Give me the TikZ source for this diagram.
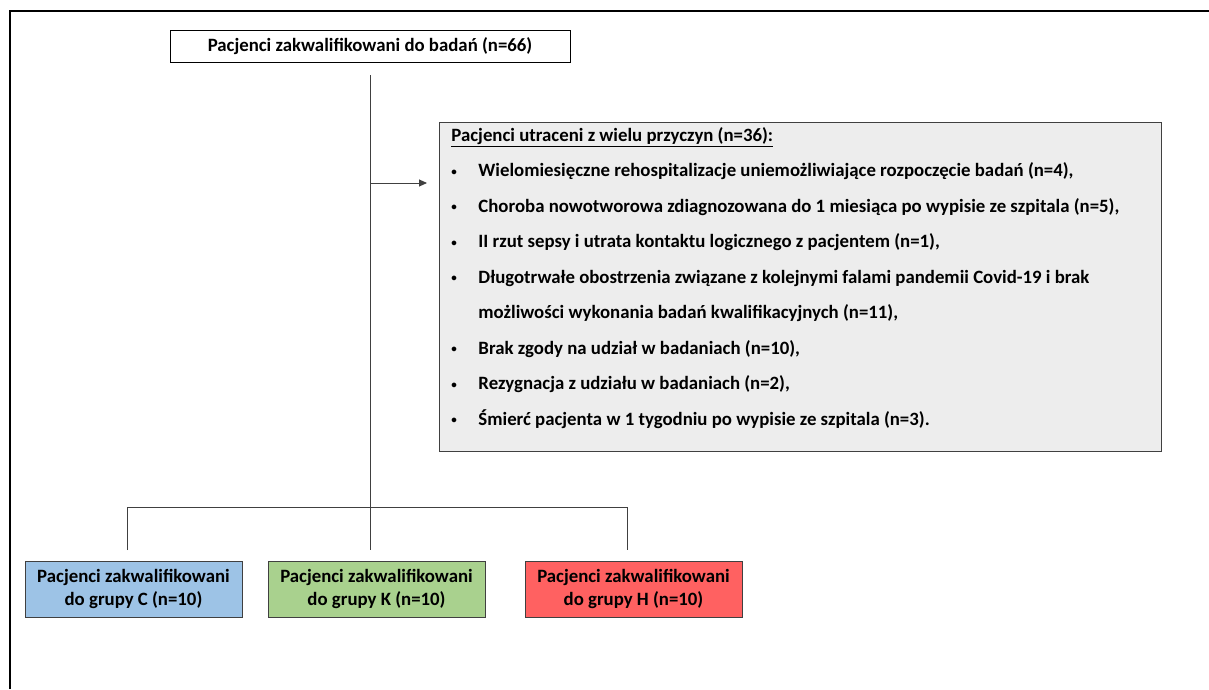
\documentclass[tikz,border=0pt]{standalone}
\usepackage{fontspec}
\setmainfont{Carlito}
\usetikzlibrary{arrows.meta}
\definecolor{cblue}{HTML}{9DC3E6}
\definecolor{cgreen}{HTML}{A9D18E}
\definecolor{cred}{HTML}{FF6161}
\definecolor{cgray}{HTML}{EDEDED}
\definecolor{cline}{HTML}{404040}
\newcommand{\bul}{\makebox[27pt][l]{\raisebox{1.5pt}{\fontsize{11}{11}\selectfont\textbullet}}}
\tikzset{
  basefont/.style={font=\fontsize{18.8}{23.5}\selectfont\bfseries},
  topbox/.style={draw=black, line width=0.9pt, fill=white, minimum width=400pt, minimum height=32pt, inner sep=0pt, basefont},
  grpbox/.style={draw=cline, line width=0.9pt, minimum width=217pt, minimum height=56pt, inner sep=0pt, align=center, basefont},
  lostbox/.style={draw=cline, line width=0.9pt, fill=cgray, inner sep=0pt, anchor=north west},
  conn/.style={draw=cline, line width=0.9pt},
  arr/.style={conn, -{Triangle[length=8pt,width=7pt]}}
}
\begin{document}
\begin{tikzpicture}[x=1pt,y=-1pt]
\useasboundingbox (0,0) rectangle (1209,689);
\fill[white] (0,0) rectangle (1209,689);
\draw[line width=2pt] (10,689) -- (10,11) -- (1209,11);

\node[topbox] (top) at (370,46) {Pacjenci zakwalifikowani do badań (n=66)};

\node[lostbox] (lost) at (439,122) {%
\begin{minipage}[c][329pt][t]{722pt}
\fontsize{18.8}{35.5}\selectfont\bfseries
\parindent=0pt
\vspace*{5pt}%
\hspace*{12pt}\underline{Pacjenci utraceni z wielu przyczyn (n=36):}\\
\hspace*{12pt}\bul Wielomiesięczne rehospitalizacje uniemożliwiające rozpoczęcie badań (n=4),\\
\hspace*{12pt}\bul Choroba nowotworowa zdiagnozowana do 1 miesiąca po wypisie ze szpitala (n=5),\\
\hspace*{12pt}\bul II rzut sepsy i utrata kontaktu logicznego z pacjentem (n=1),\\
\hspace*{12pt}\bul Długotrwałe obostrzenia związane z kolejnymi falami pandemii Covid-19 i brak\\
\hspace*{39pt}możliwości wykonania badań kwalifikacyjnych (n=11),\\
\hspace*{12pt}\bul Brak zgody na udział w badaniach (n=10),\\
\hspace*{12pt}\bul Rezygnacja z udziału w badaniach (n=2),\\
\hspace*{12pt}\bul Śmierć pacjenta w 1 tygodniu po wypisie ze szpitala (n=3).
\end{minipage}};

\node[grpbox, fill=cblue] (c) at (133.5,589) {Pacjenci zakwalifikowani\\do grupy C (n=10)};
\node[grpbox, fill=cgreen] (k) at (376.5,589) {Pacjenci zakwalifikowani\\do grupy K (n=10)};
\node[grpbox, fill=cred] (h) at (633.5,589) {Pacjenci zakwalifikowani\\do grupy H (n=10)};

\coordinate (mtop) at (370,75);
\coordinate (marr) at (370,183);
\coordinate (mbot) at (370,550);
\coordinate (bl) at (127,507);
\coordinate (br) at (627,507);
\coordinate (dl) at (127,550);
\coordinate (dr) at (627,550);
\coordinate (tip) at (427,183);

\draw[conn] (mtop) -- (mbot);
\draw[arr] (marr) -- (tip);
\draw[conn] (dl) -- (bl) -- (br) -- (dr);
\end{tikzpicture}
\end{document}
